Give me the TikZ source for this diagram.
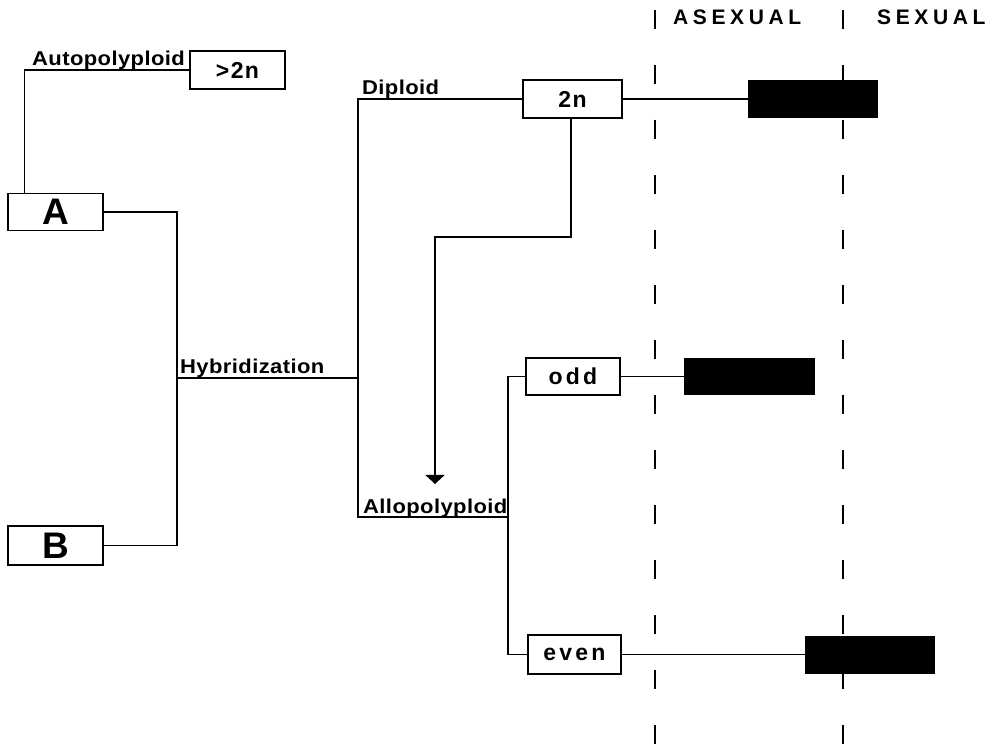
\documentclass[tikz,border=0pt]{standalone}
\usepackage{fontspec}
\setmainfont{Liberation Sans}
\usetikzlibrary{
  arrows.meta,
  positioning
}
\newcommand{\labelfont}{\fontsize{20}{23}\selectfont\bfseries\addfontfeature{FakeStretch=1.1,LetterSpace=2}}
\newcommand{\boxfont}{\fontsize{23}{26}\selectfont\bfseries\addfontfeature{LetterSpace=6}}
\newcommand{\widefont}{\fontsize{23}{26}\selectfont\bfseries\addfontfeature{LetterSpace=14}}
\newcommand{\headfont}{\fontsize{21}{24}\selectfont\bfseries\addfontfeature{LetterSpace=22}}
\newcommand{\bigfont}{\fontsize{37}{40}\selectfont\bfseries}
\tikzset{
  link/.style={line width=1.4pt,draw=black},
  cell/.style={
    draw=black,
    line width=1.4pt,
    fill=white,
    inner sep=0pt,
    minimum height=38pt,
    font=\boxfont
  },
  parent/.style={cell,minimum width=95pt,minimum height=37pt,font=\bigfont},
  bar/.style={fill=black,inner sep=0pt,minimum width=130pt,minimum height=38pt},
  tag/.style={font=\labelfont,inner sep=0pt,anchor=base west},
  header/.style={font=\headfont,inner sep=0pt,anchor=base west},
  divider/.style={line width=2pt,dash pattern=on 19pt off 36pt}
}

\begin{document}
\begin{tikzpicture}[x=1pt,y=-1pt]
  \useasboundingbox (0,0) rectangle (997,751);

  % asexual / sexual columns
  \draw[divider] (655,10) -- (655,751);
  \draw[divider] (843,10) -- (843,745);
  \node[header] (asexual) at (673,25) {ASEXUAL};
  \node[header] (sexual) at (877,25) {SEXUAL};

  % parents
  \node[parent] (A) at (55.5,212) {A};
  \node[parent,minimum height=39pt] (B) at (55.5,545.5) {B};
  \node[cell,minimum width=95pt] (auto) at (237.5,70) {>2n};

  % offspring
  \node[cell,minimum width=99pt] (two) at (572.5,99) {2n};
  \node[cell,minimum width=94pt,minimum height=37pt,font=\widefont] (odd) at (573,376.5) {odd};
  \node[cell,minimum width=93pt,minimum height=39pt,font=\widefont] (even) at (574.5,654.5) {even};

  % reproduction bars
  \node[bar] (sex2n) at (813,99) {};
  \node[bar,minimum width=131pt,minimum height=37pt] (sexodd) at (749.5,376.5) {};
  \node[bar] (sexeven) at (870,654.5) {};

  \coordinate (hyb) at (177,378);
  \coordinate (split) at (358,378);
  \coordinate (allo) at (508,517);
  \coordinate (bend) at (435,237);
  \coordinate (tip) at (435,484);

  \draw[link] ([xshift=17pt]A.north west) |- (auto.west);
  \draw[link] (A.east) -| (hyb) |- (B.east);
  \draw[link] (hyb) -- (split);
  \draw[link] (two.west) -| (split) |- (allo);
  \draw[link] (odd.west) -| (allo) |- (even.west);
  \draw[link,-{Triangle[width=19pt,length=9pt]}] ([xshift=-1.5pt]two.south) |- (bend) -- (tip);

  \draw[link] (two.east) -- (sex2n.west);
  \draw[link] (odd.east) -- (sexodd.west);
  \draw[link] (even.east) -- (sexeven.west);

  % branch labels
  \node[tag] (autolbl) at (32,66) {Autopolyploid};
  \node[tag] (hyblbl) at (180,374) {Hybridization};
  \node[tag] (diplbl) at (362,95) {Diploid};
  \node[tag] (allolbl) at (363,513) {Allopolyploid};
\end{tikzpicture}
\end{document}
